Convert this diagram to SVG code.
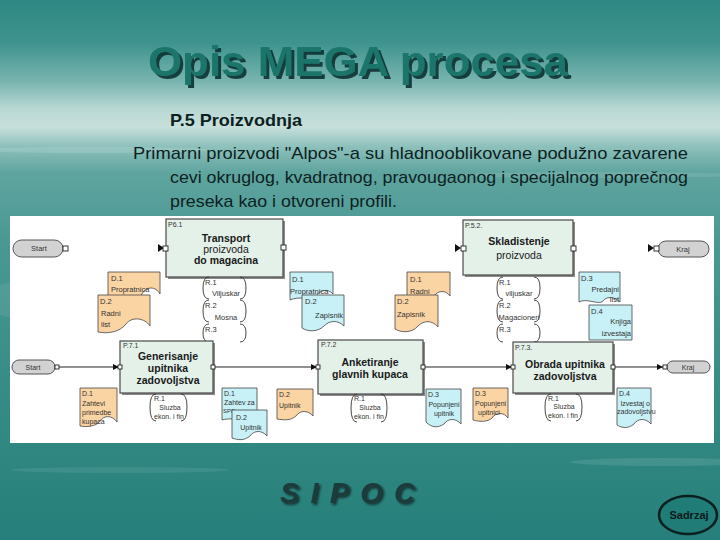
<svg xmlns="http://www.w3.org/2000/svg" width="720" height="540" viewBox="0 0 720 540">
<defs>
<linearGradient id="bg" x1="0" y1="0" x2="0" y2="1">
<stop offset="0" stop-color="#2f8883"/>
<stop offset="0.08" stop-color="#3f938e"/>
<stop offset="0.15" stop-color="#78b4af"/>
<stop offset="0.2" stop-color="#b7d7d3"/>
<stop offset="0.235" stop-color="#c8e0dc"/>
<stop offset="0.27" stop-color="#8fc1bc"/>
<stop offset="0.32" stop-color="#5fa49f"/>
<stop offset="0.45" stop-color="#4a9893"/>
<stop offset="0.6" stop-color="#3f918c"/>
<stop offset="0.85" stop-color="#2f8681"/>
<stop offset="1" stop-color="#267f7a"/>
</linearGradient>
<filter id="tshadow" x="-5%" y="-20%" width="115%" height="150%">
<feDropShadow dx="3" dy="3" stdDeviation="0.6" flood-color="#0b3330" flood-opacity="0.9"/>
</filter>
<filter id="sshadow" x="-5%" y="-20%" width="115%" height="150%">
<feDropShadow dx="2" dy="2" stdDeviation="0.8" flood-color="#0a2422" flood-opacity="0.8"/>
</filter>
<marker id="arr" viewBox="0 0 8 8" refX="8" refY="4" markerWidth="6" markerHeight="6" orient="auto" markerUnits="userSpaceOnUse">
<path d="M0,0 L8,4 L0,8 Z" fill="#111"/>
</marker>
<style>
.box{fill:#e4f1e9;stroke:#4a4a4a;stroke-width:1.2}
.shadow{fill:#8a8a8a}
.pill{fill:#d2d2d2;stroke:#555;stroke-width:1}
.port{fill:#fff;stroke:#222;stroke-width:0.9}
.doco{fill:#fbd4a4;stroke:#444;stroke-width:0.8}
.docb{fill:#c7f0f7;stroke:#444;stroke-width:0.8}
.res{fill:none;stroke:#333;stroke-width:0.9}
.t{font-family:"Liberation Sans",Arial,sans-serif;font-size:7.5px;fill:#333}
.tl{font-family:"Liberation Sans",Arial,sans-serif;font-size:7px;fill:#333}
.bt{font-family:"Liberation Sans",Arial,sans-serif;font-size:10.5px;fill:#1a1a1a;text-anchor:middle}
.b{font-weight:bold}
.c{text-anchor:middle}
.e{text-anchor:end}
.conn{stroke:#222;stroke-width:1.2;fill:none}
</style>
</defs>

<g id="background">
<rect x="0" y="0" width="720" height="540" fill="url(#bg)"/>
<ellipse cx="90" cy="150" rx="120" ry="3" fill="#ffffff" opacity="0.12"/>
<ellipse cx="600" cy="175" rx="140" ry="3" fill="#ffffff" opacity="0.1"/>
<ellipse cx="40" cy="300" rx="60" ry="20" fill="#ffffff" opacity="0.08"/>
<ellipse cx="660" cy="462" rx="90" ry="4" fill="#ffffff" opacity="0.1"/>
<ellipse cx="120" cy="470" rx="110" ry="3" fill="#ffffff" opacity="0.08"/>
</g>

<g id="header">
<text x="358" y="76" text-anchor="middle" font-family="Liberation Sans,Arial,sans-serif" font-size="42" font-weight="bold" fill="#1b746b" filter="url(#tshadow)" textLength="420" lengthAdjust="spacingAndGlyphs">Opis MEGA procesa</text>
<text x="170" y="126" font-family="Liberation Sans,Arial,sans-serif" font-size="17" font-weight="bold" fill="#0d1f1f" textLength="132" lengthAdjust="spacingAndGlyphs">P.5 Proizvodnja</text>
<g font-family="Liberation Sans,Arial,sans-serif" font-size="17" fill="#0d1f1f">
<text x="133" y="159" textLength="555" lengthAdjust="spacingAndGlyphs">Primarni proizvodi "Alpos"-a su hladnooblikovane podužno zavarene</text>
<text x="170" y="183" textLength="518" lengthAdjust="spacingAndGlyphs">cevi okruglog, kvadratnog, pravougaonog i specijalnog poprečnog</text>
<text x="170" y="207" textLength="227" lengthAdjust="spacingAndGlyphs">preseka kao i otvoreni profili.</text>
</g>
</g>

<g id="panel">
<rect x="10" y="216" width="704" height="227" fill="#ffffff"/>
</g>

<g id="connectors">
<line class="conn" x1="58" y1="367" x2="119" y2="367" marker-end="url(#arr)"/>
<line class="conn" x1="213" y1="367" x2="317" y2="367" marker-end="url(#arr)"/>
<line class="conn" x1="423" y1="367" x2="512" y2="367" marker-end="url(#arr)"/>
<line class="conn" x1="613" y1="367" x2="663" y2="367" marker-end="url(#arr)"/>
<path d="M158,244 L164,248 L158,252 Z" fill="#111"/>
<path d="M455,244 L461,248 L455,252 Z" fill="#111"/>
<path d="M648,244 L654,248 L648,252 Z" fill="#111"/>
</g>

<g id="start-top">
<rect class="pill" x="13" y="240" width="50" height="17" rx="8.5"/>
<text class="t c" x="39" y="251">Start</text>
<rect class="port" x="63" y="246" width="5" height="5"/>
</g>

<g id="p61">
<rect class="shadow" x="168" y="221" width="117" height="58"/>
<rect class="box" x="166" y="219" width="117" height="58"/>
<text class="tl" x="168" y="227">P6.1</text>
<text class="bt b" x="226" y="242">Transport</text>
<text class="bt" x="226" y="253">proizvoda</text>
<text class="bt b" x="226" y="264">do magacina</text>
<rect class="port" x="163" y="246" width="5" height="5"/>
<rect class="port" x="281" y="245" width="5" height="5"/>
</g>

<g id="p52">
<rect class="shadow" x="465" y="222" width="110" height="55"/>
<rect class="box" x="463" y="220" width="110" height="55"/>
<text class="tl" x="465" y="228">P.5.2.</text>
<text class="bt b" x="519" y="245">Skladistenje</text>
<text class="bt" x="519" y="259">proizvoda</text>
<rect class="port" x="461" y="246" width="5" height="5"/>
<rect class="port" x="571" y="246" width="5" height="5"/>
</g>

<g id="kraj-top">
<rect class="pill" x="658" y="241" width="51" height="16" rx="8"/>
<text class="t c" x="683" y="252">Kraj</text>
<rect class="port" x="654" y="246" width="5" height="5"/>
</g>

<g id="doc-top-1">
<path class="doco" d="M108,272 H160 V294 C156,286 146,286 142,294 C138,300 120,302 108,300 Z"/>
<text class="t" x="111" y="281">D.1</text>
<text class="t" x="111" y="292">Propratnica</text>
</g>
<g id="doc-top-2">
<path class="doco" d="M98,295 H150 V326 C145,318 132,316 126,324 C120,332 108,334 98,332 Z"/>
<text class="t" x="100" y="304">D.2</text>
<text class="t" x="101" y="316">Radni</text>
<text class="t" x="101" y="327">list</text>
</g>

<g id="res-top-left">
<path class="res" d="M209,277 Q203,277 203,288 Q203,299 209,299 M240,277 Q246,277 246,288 Q246,299 240,299"/>
<path class="res" d="M209,300 Q203,300 203,311 Q203,322 209,322 M240,300 Q246,300 246,311 Q246,322 240,322"/>
<path class="res" d="M209,324 Q203,324 203,333 Q203,342 209,342 M240,324 Q246,324 246,333 Q246,342 240,342"/>
<text class="t" x="205" y="285">R.1</text>
<text class="t c" x="226" y="296">Viljuskar</text>
<text class="t" x="205" y="308">R.2</text>
<text class="t c" x="226" y="320">Mosna</text>
<text class="t" x="205" y="332">R.3</text>
</g>

<g id="doc-top-3">
<path class="docb" d="M290,272 H333 V294 C328,288 320,290 316,296 C310,300 298,296 290,300 Z"/>
<text class="t" x="292" y="282">D.1</text>
<text class="t" x="290" y="294">Propratnica</text>
</g>
<g id="doc-top-4">
<path class="docb" d="M302,295 H344 V326 C338,320 330,320 324,326 C318,332 308,332 302,328 Z"/>
<text class="t" x="305" y="304">D.2</text>
<text class="t e" x="343" y="318">Zapisnik</text>
</g>

<g id="doc-top-5">
<path class="doco" d="M407,272 H450 V296 C446,290 438,290 434,296 C430,300 418,300 407,298 Z"/>
<text class="t" x="410" y="282">D.1</text>
<text class="t" x="410" y="294">Radni</text>
</g>
<g id="doc-top-6">
<path class="doco" d="M395,295 H438 V327 C432,320 424,320 418,326 C412,333 402,333 395,329 Z"/>
<text class="t" x="397" y="304">D.2</text>
<text class="t" x="397" y="317">Zapisnik</text>
</g>

<g id="res-top-right">
<path class="res" d="M503,277 Q497,277 497,288 Q497,299 503,299 M534,277 Q540,277 540,288 Q540,299 534,299"/>
<path class="res" d="M503,300 Q497,300 497,311 Q497,322 503,322 M534,300 Q540,300 540,311 Q540,322 534,322"/>
<path class="res" d="M503,324 Q497,324 497,333 Q497,342 503,342 M534,324 Q540,324 540,333 Q540,342 534,342"/>
<text class="t" x="499" y="285">R.1</text>
<text class="t c" x="519" y="296">viljuskar</text>
<text class="t" x="499" y="308">R.2</text>
<text class="t c" x="519" y="320">Magacioneri</text>
<text class="t" x="499" y="332">R.3</text>
</g>

<g id="doc-top-7">
<path class="docb" d="M579,272 H620 V302 C614,296 606,296 602,302 C596,304 586,298 579,302 Z"/>
<text class="t" x="581" y="281">D.3</text>
<text class="t e" x="619" y="292">Predajni</text>
<text class="t e" x="619" y="302">list</text>
</g>
<g id="doc-top-8">
<path class="docb" d="M589,305 H632 V340 H589 Z"/>
<text class="t" x="591" y="314">D.4</text>
<text class="t e" x="631" y="324">Knjiga</text>
<text class="t e" x="631" y="336">izvestaja</text>
</g>

<g id="start-bottom">
<rect class="pill" x="12" y="360" width="43" height="14" rx="7"/>
<text class="tl c" x="33" y="370">Start</text>
<rect class="port" x="55" y="365" width="4" height="4"/>
</g>

<g id="p71">
<rect class="shadow" x="122" y="343" width="93" height="52"/>
<rect class="box" x="120" y="341" width="93" height="52"/>
<text class="tl" x="123" y="348">P.7.1</text>
<text class="bt b" x="168" y="360">Generisanje</text>
<text class="bt b" x="168" y="372">upitnika</text>
<text class="bt b" x="168" y="384">zadovoljstva</text>
<rect class="port" x="118" y="365" width="4" height="4"/>
<rect class="port" x="211" y="365" width="4" height="4"/>
</g>

<g id="p72">
<rect class="shadow" x="320" y="342" width="105" height="54"/>
<rect class="box" x="318" y="340" width="105" height="54"/>
<text class="tl" x="321" y="347">P.7.2</text>
<text class="bt b" x="370" y="366">Anketiranje</text>
<text class="bt b" x="370" y="378">glavnih kupaca</text>
<rect class="port" x="316" y="365" width="4" height="4"/>
<rect class="port" x="421" y="365" width="4" height="4"/>
</g>

<g id="p73">
<rect class="shadow" x="515" y="344" width="100" height="51"/>
<rect class="box" x="513" y="342" width="100" height="51"/>
<text class="tl" x="515" y="350">P.7.3.</text>
<text class="bt b" x="565" y="368">Obrada upitnika</text>
<text class="bt b" x="565" y="380">zadovoljstva</text>
<rect class="port" x="511" y="365" width="4" height="4"/>
<rect class="port" x="611" y="365" width="4" height="4"/>
</g>

<g id="kraj-bottom">
<rect class="pill" x="667" y="361" width="43" height="12" rx="6"/>
<text class="tl c" x="688" y="370">Kraj</text>
<rect class="port" x="663" y="365" width="4" height="4"/>
</g>

<g id="doc-bot-1">
<path class="doco" d="M80,388 H117 V422 C112,415 104,415 100,421 C96,427 86,427 80,426 Z"/>
<text class="tl" x="82" y="396">D.1</text>
<text class="tl" x="82" y="406">Zahtevi</text>
<text class="tl" x="82" y="415">primedbe</text>
<text class="tl" x="82" y="424">kupaca</text>
</g>
<g id="res-bot-1">
<path class="res" d="M156,394 Q150,394 150,407 Q150,421 156,421 M181,394 Q187,394 187,407 Q187,421 181,421"/>
<text class="tl" x="154" y="401">R.1</text>
<text class="tl c" x="170" y="410">Sluzba</text>
<text class="tl c" x="169" y="419">ekon. i fin</text>
</g>
<g id="doc-bot-2">
<path class="docb" d="M222,388 H257 V414 C252,410 246,410 242,416 C236,420 228,418 222,420 Z"/>
<text class="tl" x="224" y="396">D.1</text>
<text class="tl" x="224" y="405">Zahtev za</text>
<text x="223" y="413" font-family="Liberation Sans,Arial,sans-serif" font-size="6px" fill="#333">SPD</text>
</g>
<g id="doc-bot-3">
<path class="docb" d="M232,410 H267 V436 C262,430 254,430 250,436 C244,441 238,440 232,438 Z"/>
<text class="tl" x="236" y="420">D.2</text>
<text class="tl c" x="251" y="430">Upitnik</text>
</g>
<g id="doc-bot-4">
<path class="doco" d="M277,389 H313 V416 C308,410 300,410 296,416 C290,421 284,420 277,419 Z"/>
<text class="tl" x="279" y="397">D.2</text>
<text class="tl" x="279" y="408">Upitnik</text>
</g>
<g id="res-bot-2">
<path class="res" d="M357,394 Q351,394 351,408 Q351,422 357,422 M381,394 Q387,394 387,408 Q387,422 381,422"/>
<text class="tl" x="354" y="401">R.1</text>
<text class="tl c" x="370" y="410">Sluzba</text>
<text class="tl c" x="369" y="419">ekon. i fin</text>
</g>
<g id="doc-bot-5">
<path class="docb" d="M426,389 H461 V424 C456,418 448,418 444,424 C438,428 432,428 426,422 Z"/>
<text class="tl" x="428" y="397">D.3</text>
<text class="tl c" x="444" y="407">Popunjeni</text>
<text class="tl c" x="444" y="416">upitnik</text>
</g>
<g id="doc-bot-6">
<path class="doco" d="M473,388 H508 V418 C504,412 496,412 492,418 C488,422 480,422 473,420 Z"/>
<text class="tl" x="475" y="396">D.3</text>
<text class="tl" x="475" y="406">Popunjeni</text>
<text class="tl" x="478" y="415">upitnici</text>
</g>
<g id="res-bot-3">
<path class="res" d="M551,394 Q545,394 545,407 Q545,421 551,421 M576,394 Q582,394 582,407 Q582,421 576,421"/>
<text class="tl" x="548" y="401">R.1</text>
<text class="tl c" x="564" y="409">Sluzba</text>
<text class="tl c" x="563" y="418">ekon. i fin</text>
</g>
<g id="doc-bot-7">
<path class="docb" d="M617,388 H651 V424 C646,418 638,418 634,424 C628,429 622,428 617,425 Z"/>
<text class="tl" x="619" y="396">D.4</text>
<text class="tl e" x="650" y="406">Izvestaj o</text>
<text class="tl" x="617" y="414">zadovoljstvu</text>
</g>

<g id="footer">
<text x="280" y="503" font-family="Liberation Sans,Arial,sans-serif" font-size="29" font-weight="bold" font-style="italic" fill="#1c3b3a" filter="url(#sshadow)" textLength="135" lengthAdjust="spacing">SIPOC</text>
</g>

<g id="sadrzaj">
<ellipse cx="688" cy="515" rx="29" ry="19" fill="#1f7c76" stroke="#0b1f1f" stroke-width="2.5"/>
<text x="689" y="519" text-anchor="middle" font-family="Liberation Sans,Arial,sans-serif" font-size="11" font-weight="bold" fill="#0a1a1a">Sadrzaj</text>
</g>
</svg>
